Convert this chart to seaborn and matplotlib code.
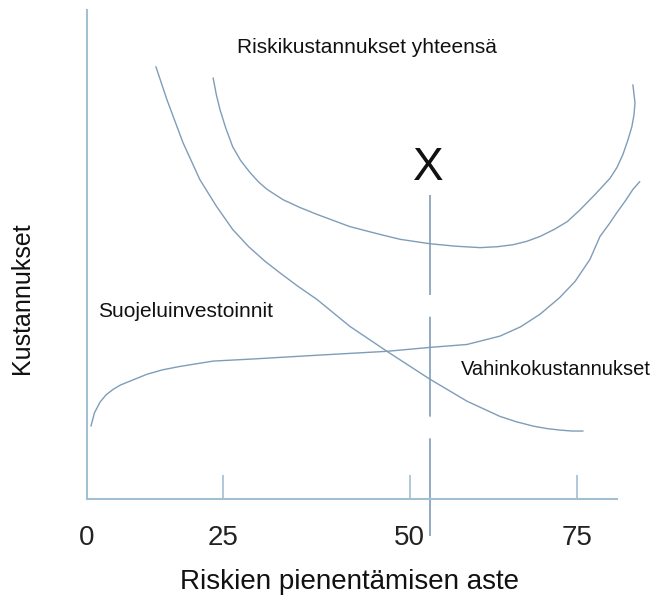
import matplotlib
matplotlib.use("Agg")
import matplotlib.pyplot as plt
import seaborn as sns
import pandas as pd

sns.set_theme(style="white")
plt.rcParams['font.family'] = ['Liberation Sans', 'DejaVu Sans']

# x: position along the horizontal axis (0 = origin, 100 = end of axis line)
# y: cost level (0 = axis, 100 = top of vertical axis)
tick_pos = [0, 25.7, 60.9, 92.5]
tick_labels = ["0", "25", "50", "75"]

invest_x = [0.75, 1.4, 2.45, 3.6, 4.9, 6.3, 8.1, 11.3, 14.2, 17.5, 23.8, 30.8, 43.4,
            56.6, 64.7, 71.7, 77.9, 81.8, 85.5, 89.2, 92.1, 94.9, 96.8, 98.5, 100.0,
            101.6, 103.0, 104.3]
invest_y = [14.9, 17.6, 19.8, 21.3, 22.4, 23.3, 24.1, 25.5, 26.4, 27.1, 28.2, 28.6,
            29.4, 30.2, 31.0, 31.6, 33.3, 35.2, 37.8, 41.2, 44.5, 49.0, 53.7, 56.2,
            58.6, 61.0, 63.3, 64.9]

damage_x = [13.0, 15.1, 18.1, 21.3, 24.4, 27.5, 30.5, 33.6, 36.7, 39.8, 43.4, 49.6,
            56.6, 64.7, 71.7, 77.9, 81.0, 84.2, 86.8, 89.2, 91.5, 93.6]
damage_y = [88.4, 81.6, 72.9, 65.3, 59.9, 55.1, 51.6, 48.6, 46.0, 43.5, 40.8, 35.3,
            30.2, 24.5, 20.0, 16.9, 15.8, 14.9, 14.4, 14.1, 13.9, 13.9]

total_x = [23.8, 24.4, 25.1, 26.2, 27.5, 29.0, 30.8, 32.4, 34.0, 37.0, 40.2, 43.4,
           49.6, 55.3, 59.1, 64.7, 69.5, 74.2, 77.5, 80.4, 83.0, 85.5, 88.1, 90.6,
           93.0, 95.8, 98.7, 100.0, 101.1, 102.0, 102.8, 103.2, 103.4, 103.0]
total_y = [86.1, 82.7, 79.6, 75.8, 72.0, 69.2, 66.7, 64.8, 63.3, 61.2, 59.6, 58.2,
           55.7, 54.1, 53.1, 52.2, 51.7, 51.4, 51.6, 52.0, 52.7, 53.7, 55.1, 56.7,
           59.1, 62.2, 65.6, 67.8, 70.4, 73.2, 76.1, 78.5, 81.0, 84.7]

x_optimum = 64.7
x_line_top = 62.2
x_line_bottom = -7.5

curve_color = "#7f9db8"
axis_color = "#a3bfd2"

fig = plt.figure(figsize=(6.58, 5.97), dpi=100)
ax = fig.add_axes([0, 0, 1, 1])
ax.set_xlim(-16.415, 107.74)
ax.set_ylim(-20.04, 102.04)

df_inv = pd.DataFrame({"x": invest_x, "y": invest_y})
df_dam = pd.DataFrame({"x": damage_x, "y": damage_y})
df_tot = pd.DataFrame({"x": total_x, "y": total_y})
for d in (df_inv, df_dam, df_tot):
    sns.lineplot(data=d, x="x", y="y", ax=ax, sort=False, color=curve_color,
                 linewidth=1.0, estimator=None)
for ln in ax.lines:
    ln.set_solid_joinstyle("round")

# dashed optimum line
ax.plot([x_optimum, x_optimum], [x_line_top, x_line_bottom], color=curve_color,
        linewidth=1.2, linestyle=(0, (60, 13)), clip_on=False)

# axes lines
for s in ["top", "right"]:
    ax.spines[s].set_visible(False)
ax.spines["left"].set_position(("data", 0))
ax.spines["bottom"].set_position(("data", 0))
ax.spines["left"].set_bounds(0, 100)
ax.spines["bottom"].set_bounds(0, 100)
for s in ["left", "bottom"]:
    ax.spines[s].set_color(axis_color)
    ax.spines[s].set_linewidth(1.5)

ax.set_yticks([])
ax.set_xticks(tick_pos, tick_labels)
ax.tick_params(axis="x", direction="in", length=17, width=1.2, color=axis_color,
               labelsize=20, pad=19, labelcolor="#222222", bottom=True)
ax.set_xlabel("")
ax.set_ylabel("")

txt = dict(color="#111111")
ax.text(28.3, 92.4, "Riskikustannukset yhteensä", fontsize=15, va="center", ha="left", **txt)
ax.text(2.1, 38.4, "Suojeluinvestoinnit", fontsize=15, va="center", ha="left", **txt)
ax.text(70.6, 26.5, "Vahinkokustannukset", fontsize=14.5, va="center", ha="left", **txt)
ax.text(64.4, 67.6, "X", fontsize=33, va="center", ha="center", **txt)
ax.text(49.6, -17.0, "Riskien pienentämisen aste", fontsize=20, va="center", ha="center", **txt)
ax.text(-12.3, 41.0, "Kustannukset", fontsize=18, va="center", ha="center", rotation=90, **txt)

fig.savefig("out.png", dpi=100, facecolor="white")
